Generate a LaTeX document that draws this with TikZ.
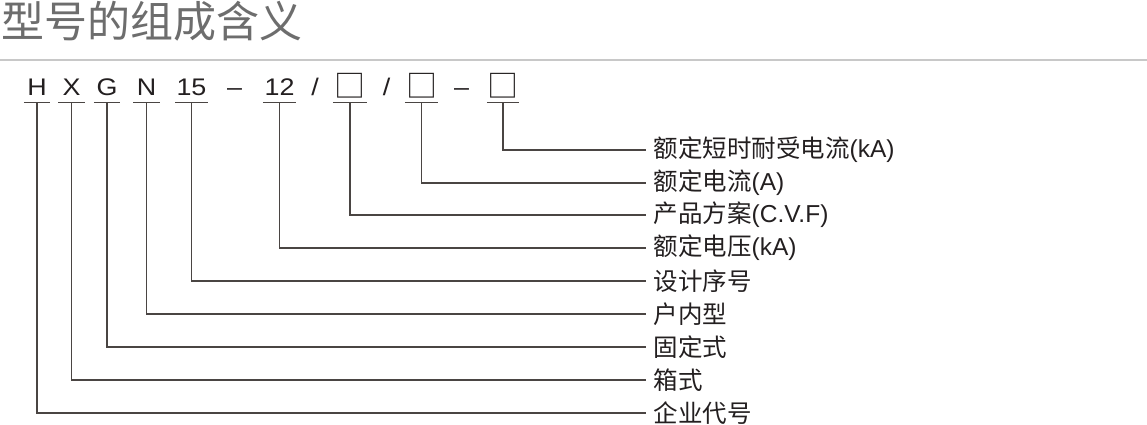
\documentclass[tikz,border=0pt]{standalone}
\usepackage{fontspec}
\setmainfont{Noto Sans CJK SC}
\newfontfamily\latf{Liberation Sans}
\newfontfamily\codef[FakeStretch=1.12]{Liberation Sans}
\begin{document}
\begin{tikzpicture}[x=1pt,y=-1pt,
  code/.style={anchor=base,inner sep=0pt,font=\codef\fontsize{24}{24}\selectfont,text=codecol},
  boxc/.style={anchor=base,inner sep=0pt,font=\fontsize{31}{31}\selectfont,text=codecol},
  sep/.style={anchor=base,inner sep=0pt,font=\codef\fontsize{24}{24}\selectfont,text=codecol},
  lbl/.style={anchor=west,inner xsep=7.5pt,inner ysep=0pt,font=\fontsize{24.5}{24.5}\selectfont,text=lblcol},
  conn/.style={draw=linecol,line width=1.25pt},
  uline/.style={draw=linecol,line width=1.25pt}]
\definecolor{codecol}{HTML}{231F20}
\definecolor{lblcol}{HTML}{231F20}
\definecolor{linecol}{HTML}{4A4543}
\definecolor{titlecol}{HTML}{6D6D6D}
\definecolor{rulecol}{HTML}{C8C8C8}
\useasboundingbox[fill=white] (0,0) rectangle (1147,424);
% title
\node[anchor=west,inner sep=0pt,font=\fontsize{43}{43}\selectfont,text=titlecol] (title) at (1,21) {型号的组成含义};
\draw[rulecol,line width=1.5pt] (0,60) -- (1147,60);
% code elements
\node[code,minimum width=26] (h) at (37,95.5) {H};
\node[code,minimum width=26] (x) at (71.5,95.5) {X};
\node[code,minimum width=26] (g) at (107,95.5) {G};
\node[code,minimum width=26] (n) at (146.5,95.5) {N};
\node[code,minimum width=32] (c15) at (191.5,95.5) {15};
\node[sep] (d1) at (234.5,95.5) {–};
\node[code,minimum width=33] (c12) at (279.5,95.5) {12};
\node[sep] (s1) at (315,95.5) {/};
\node[boxc,minimum width=34] (b1) at (350,97.5) {□};
\node[sep] (s2) at (386.5,95.5) {/};
\node[boxc,minimum width=33] (b2) at (421.5,97.5) {□};
\node[sep] (d2) at (461.5,95.5) {–};
\node[boxc,minimum width=32] (b3) at (503,97.5) {□};
% underlines
\foreach \n/\s in {h/7,x/7,g/7,n/7,c15/7,c12/7,b1/5,b2/5,b3/5}{
  \draw[uline] ([yshift=-\s pt]\n.base west) -- ([yshift=-\s pt]\n.base east);
}
% labels
\node[lbl] (l1) at (646,150) {额定短时耐受电流{\latf (kA)}};
\node[lbl] (l2) at (646,183) {额定电流{\latf (A)}};
\node[lbl] (l3) at (646,215) {产品方案{\latf (C.V.F)}};
\node[lbl] (l4) at (646,248) {额定电压{\latf (kA)}};
\node[lbl] (l5) at (646,281) {设计序号};
\node[lbl] (l6) at (646,314) {户内型};
\node[lbl] (l7) at (646,347) {固定式};
\node[lbl] (l8) at (646,380) {箱式};
\node[lbl] (l9) at (646,413) {企业代号};
% connectors
\draw[conn] ([yshift=-5pt]b3.base) |- (l1.west);
\draw[conn] ([yshift=-5pt]b2.base) |- (l2.west);
\draw[conn] ([yshift=-5pt]b1.base) |- (l3.west);
\draw[conn] ([yshift=-7pt]c12.base) |- (l4.west);
\draw[conn] ([yshift=-7pt]c15.base) |- (l5.west);
\draw[conn] ([yshift=-7pt]n.base) |- (l6.west);
\draw[conn] ([yshift=-7pt]g.base) |- (l7.west);
\draw[conn] ([yshift=-7pt]x.base) |- (l8.west);
\draw[conn] ([yshift=-7pt]h.base) |- (l9.west);
\end{tikzpicture}
\end{document}
